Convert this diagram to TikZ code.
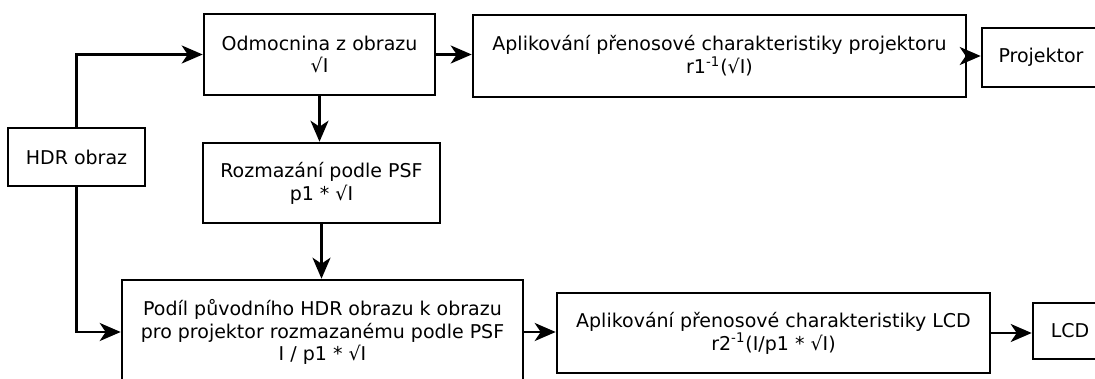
\documentclass[tikz,border=0pt]{standalone}
\usepackage{fontspec}
\setmainfont{DejaVu Sans}
\usetikzlibrary{arrows.meta,positioning,calc}
\tikzset{
    block line/.style={line width=1.3pt},
    block/.style={draw,block line,align=center,inner sep=2pt,minimum width=#1},
    arr/.style={->,>={Stealth[length=10.5pt,width=9pt,inset=3pt]},line width=1.3pt},
}
\tikzstyle{every node}=[font=\fontsize{9.5}{11.4}\selectfont]

\begin{document}
\begin{tikzpicture}[x=0.5pt,y=-0.5pt]
        \useasboundingbox (0,0) rectangle (1095,379);

        \node[block=68.5pt, minimum height=29pt] (hdr) at (76.5,157) {HDR obraz};
        \node[block=115.5pt, minimum height=40.5pt] (odm) at (319.5,54.5) {Odmocnina z obrazu\\√I};
        \node[block=246.5pt, minimum height=41pt] (aplproj) at (719.5,56) {Aplikování přenosové charakteristiky projektoru\\r1\textsuperscript{-1}(√I)};
        \node[block=59pt, minimum height=29.5pt] (proj) at (1041,57.5) {Projektor};
        \node[block=118.5pt, minimum height=40pt] (rozm) at (321.5,183) {Rozmazání podle PSF\\p1 * √I};
        \node[block=200.5pt, minimum height=52pt] (podil) at (322.5,332) {Podíl původního HDR obrazu k obrazu\\pro projektor rozmazanému podle PSF\\I / p1 * √I};
        \node[block=216.5pt, minimum height=40pt] (apllcd) at (773.5,333) {Aplikování přenosové charakteristiky LCD\\r2\textsuperscript{-1}(I/p1 * √I)};
        \node[block=37pt, minimum height=28pt] (lcd) at (1070,331) {LCD};

        \draw[arr] (hdr.north) |- (odm.west);
        \draw[arr] (hdr.south) |- (podil.west);
        \draw[arr] (odm.south) -- (odm.south |- rozm.north);
        \draw[arr] (rozm.south) -- (rozm.south |- podil.north);
        \draw[arr] (odm.east) -- (odm.east -| aplproj.west);
        \draw[arr] (aplproj.east) -- (aplproj.east -| proj.west);
        \draw[arr] (podil.east) -- (podil.east -| apllcd.west);
        \draw[arr] (apllcd.east) -- (apllcd.east -| lcd.west);
\end{tikzpicture}
\end{document}
